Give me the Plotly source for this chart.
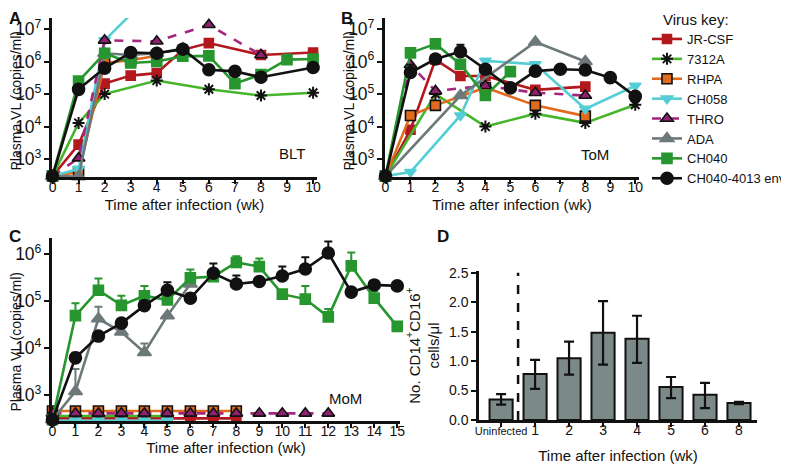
import plotly.graph_objects as go

W, H = 789, 469
OFF = 8  # the page puts the figure 8px in from the top-left corner
FONT = "Liberation Sans, Arial, Helvetica, sans-serif"

# ---- data -------------------------------------------------------------
VIRUSES = ["JR-CSF", "7312A", "RHPA", "CH058", "THRO", "ADA", "CH040", "CH040-4013 env"]

# panel A (BLT), plasma VL copies/ml by week
A_DATA = {
    "JR-CSF": ([0, 1, 2, 3, 4, 5, 6, 8, 10], [300, 2.8e3, 2.1e5, 3.7e5, 4.4e5, 2.3e6, 3.7e6, 1.6e6, 1.9e6]),
    "7312A": ([0, 1, 2, 4, 6, 8, 10], [300, 1.3e4, 1.0e5, 2.6e5, 1.4e5, 9.0e4, 1.1e5]),
    "RHPA": ([0, 1, 2, 3, 4], [300, 400, 9.0e5, 1.1e6, 1.5e6]),
    "CH058": ([0, 1, 2, 3], [300, 500, 4.5e6, 2.8e7]),
    "THRO": ([0, 1, 2, 4, 6, 8], [300, 1.07e3, 4.5e6, 4.2e6, 1.35e7, 1.6e6]),
    "ADA": ([0, 1, 2, 3, 4, 5], [300, 290, 1.8e6, 1.6e6, 1.8e6, 2.5e6]),
    "CH040": ([0, 1, 2, 3, 4, 5, 6, 7, 8, 9, 10],
              [300, 2.5e5, 1.8e6, 9.0e5, 1.0e6, 1.45e6, 1.5e6, 2.1e5, 4.0e5, 1.15e6, 1.2e6]),
    "CH040-4013 env": ([0, 1, 2, 3, 4, 5, 6, 7, 8, 10],
                       [300, 1.4e5, 6.3e5, 1.9e6, 1.8e6, 2.4e6, 5.6e5, 5.0e5, 3.3e5, 6.6e5]),
}
A_UPPER = {"CH040-4013 env": {5: 3.0e6}}

# panel B (ToM)
B_DATA = {
    "JR-CSF": ([0, 1, 2, 3, 4, 6, 8], [300, 8.0e3, 1.15e6, 3.6e5, 3.6e5, 1.35e5, 1.7e5]),
    "7312A": ([0, 2, 4, 6, 8, 10], [300, 1.0e5, 1.0e4, 2.5e4, 1.3e4, 4.7e4]),
    "RHPA": ([0, 1, 2, 4, 6, 8], [300, 2.2e4, 4.5e4, 1.6e5, 4.5e4, 2.1e4]),
    "CH058": ([0, 1, 3, 4, 6, 8, 10], [300, 400, 2.2e4, 1.05e6, 8.3e5, 3.5e4, 1.8e5]),
    "THRO": ([0, 1, 2, 4, 6, 8], [300, 8.0e5, 1.25e5, 1.8e5, 1.1e5, 9.0e4]),
    "ADA": ([0, 3, 6, 8], [300, 9.0e4, 4.0e6, 1.0e6]),
    "CH040": ([0, 1, 2, 3, 4, 5], [300, 1.85e6, 3.5e6, 8.3e5, 9.0e4, 4.9e5]),
    "CH040-4013 env": ([0, 1, 2, 3, 4, 5, 6, 7, 8, 9, 10],
                       [300, 4.6e5, 1.2e6, 2.0e6, 5.8e5, 1.55e5, 5.1e5, 5.8e5, 5.5e5, 3.2e5, 8.5e4]),
}
B_UPPER = {"CH040-4013 env": {1: 8.0e5, 3: 3.3e6}}

# panel C (MoM)
C_DATA = {
    "JR-CSF": (list(range(0, 9)), [320] * 9),
    "7312A": (list(range(0, 6)), [360] * 6),
    "RHPA": (list(range(0, 9)), [460] * 9),
    "CH058": (list(range(0, 6)), [285] * 6),
    "THRO": (list(range(0, 13)), [410] * 13),
    "ADA": ([0, 1, 2, 3, 4, 5, 6], [300, 1.2e3, 4.2e4, 2.2e4, 8.1e3, 4.9e4, 2.3e5]),
    "CH040": (list(range(0, 16)),
              [300, 4.9e4, 1.7e5, 8.1e4, 1.3e5, 1.05e5, 3.1e5, 3.3e5, 6.6e5, 5.4e5,
               1.4e5, 1.1e5, 4.6e4, 5.6e5, 1.15e5, 2.9e4]),
    "CH040-4013 env": (list(range(0, 16)),
                       [300, 6.2e3, 1.8e4, 3.4e4, 8.0e4, 1.7e5, 1.15e5, 3.9e5, 2.3e5, 2.6e5,
                        3.4e5, 4.8e5, 1.05e6, 1.55e5, 2.2e5, 2.1e5]),
}
C_UPPER = {
    "ADA": {1: 3.6e3, 2: 7.6e4, 3: 2.7e4, 4: 1.25e4},
    "CH040": {1: 9.0e4, 2: 3.0e5, 3: 1.3e5, 4: 2.1e5, 6: 4.7e5, 7: 3.6e5, 8: 9.0e5, 9: 8.0e5,
              11: 2.1e5, 12: 6.8e4, 13: 1.07e6, 14: 1.6e5},
    "CH040-4013 env": {1: 8.0e3, 3: 3.9e4, 5: 2.5e5, 7: 6.3e5, 8: 3.5e5, 10: 5.4e5,
                       11: 8.5e5, 12: 1.85e6},
}

# panel D
D_CATS = ["Uninfected", "1", "2", "3", "4", "5", "6", "8"]
D_MEAN = [0.35, 0.78, 1.05, 1.48, 1.38, 0.56, 0.43, 0.29]
D_HIGH = [0.44, 1.02, 1.33, 2.02, 1.77, 0.73, 0.63, 0.31]
D_LOW = [0.26, 0.53, 0.77, 0.94, 0.97, 0.37, 0.20, 0.27]

# ---- styles -----------------------------------------------------------
STYLE = {
    "JR-CSF": dict(color="#B3181E", symbol="square", fill="#B3181E", edge="#B3181E", size=9, dash="solid"),
    "7312A": dict(color="#47B52B", symbol="asterisk-open", fill="#111111", edge="#111111", size=10, dash="solid"),
    "RHPA": dict(color="#E06B1E", symbol="square", fill="#E06B1E", edge="#111111", size=10, dash="solid"),
    "CH058": dict(color="#55CDD4", symbol="triangle-down", fill="#55CDD4", edge="#55CDD4", size=10, dash="solid"),
    "THRO": dict(color="#A3267F", symbol="triangle-up", fill="#8E2270", edge="#111111", size=11, dash="dash"),
    "ADA": dict(color="#6D7979", symbol="triangle-up", fill="#6D7979", edge="#6D7979", size=12, dash="solid"),
    "CH040": dict(color="#27962F", symbol="square", fill="#27962F", edge="#27962F", size=10, dash="solid"),
    "CH040-4013 env": dict(color="#111111", symbol="circle", fill="#111111", edge="#111111", size=12, dash="solid"),
}


def px_x(a, b):
    return [(a - OFF) / W, (b - OFF) / W]


def px_y(top, bottom):
    return [1 - (bottom - OFF) / H, 1 - (top - OFF) / H]


def pt(x, y):
    return (x - OFF) / W, 1 - (y - OFF) / H


fig = go.Figure()


def add_panel(data, upper, xa, ya, legend):
    for i, name in enumerate(VIRUSES):
        if name not in data:
            continue
        xs, ys = data[name]
        st = STYLE[name]
        ups = upper.get(name, {})
        err = [ups[x] - y if x in ups else 0 for x, y in zip(xs, ys)]
        fig.add_trace(go.Scatter(
            x=xs, y=ys, xaxis=xa, yaxis=ya,
            mode="lines+markers",
            name=name, legendgroup=name, showlegend=legend, legendrank=i,
            line=dict(color=st["color"], width=2.6, dash=st["dash"]),
            marker=dict(symbol=st["symbol"], size=st["size"], color=st["fill"],
                        line=dict(color=st["edge"], width=1.6 if name != "7312A" else 2)),
            error_y=dict(type="data", symmetric=False, array=err, arrayminus=[0] * len(err),
                         color=st["color"], thickness=2, width=4, visible=bool(ups)),
            cliponaxis=False,
        ))


add_panel(A_DATA, A_UPPER, "x", "y", True)
add_panel(B_DATA, B_UPPER, "x2", "y2", False)
add_panel(C_DATA, C_UPPER, "x3", "y3", False)

D_POS = list(range(len(D_CATS)))
fig.add_trace(go.Bar(
    x=D_POS, y=D_MEAN, xaxis="x4", yaxis="y4", width=0.68, showlegend=False,
    marker=dict(color="#7B8A88", line=dict(color="#111111", width=2)),
    error_y=dict(type="data", symmetric=False,
                 array=[h - m for h, m in zip(D_HIGH, D_MEAN)],
                 arrayminus=[m - l for m, l in zip(D_MEAN, D_LOW)],
                 color="#111111", thickness=2.2, width=5),
))

# minor log ticks at 2, 4, 6, 8 of every decade (drawn by overlay axes)
MINOR_LOG = [m * 10 ** e for e in range(2, 8) for m in (2, 4, 6, 8)]

tickfont = dict(family=FONT, size=14, color="#111111")
titlefont = dict(family=FONT, size=15, color="#111111")
base_axis = dict(showline=True, linecolor="#111111", linewidth=2.5, ticks="outside",
                 ticklen=5, tickwidth=2, tickcolor="#111111", showgrid=False,
                 zeroline=False, tickfont=tickfont, mirror=False, automargin=False)
x_axis = dict(base_axis, ticklen=4, ticklabelstandoff=-9)
log_axis = dict(base_axis, type="log", dtick=1, exponentformat="power")
minor_axis = dict(type="log", showline=False, showgrid=False, zeroline=False, ticks="outside",
                  ticklen=3, tickwidth=1.5, tickcolor="#111111", tickmode="array",
                  tickvals=MINOR_LOG, showticklabels=False, side="left", automargin=False)
time_title = dict(text="Time after infection (wk)", font=titlefont, standoff=6)

fig.update_layout(
    width=W, height=H,
    margin=dict(l=0, r=0, t=0, b=0, autoexpand=False),
    paper_bgcolor="white", plot_bgcolor="white",
    font=dict(family=FONT, color="#111111"),
    xaxis=dict(x_axis, domain=px_x(52, 317), range=[-0.02, 10.15], dtick=1,
               anchor="y", title=time_title),
    yaxis=dict(log_axis, domain=px_y(18, 177), range=[2.45, 7.34], anchor="x"),
    xaxis2=dict(x_axis, domain=px_x(385, 639), range=[-0.02, 10.15], dtick=1,
                anchor="y2", title=time_title),
    yaxis2=dict(log_axis, domain=px_y(18, 177), range=[2.45, 7.34], anchor="x2"),
    xaxis3=dict(x_axis, domain=px_x(52, 400), range=[-0.02, 15.12], dtick=1,
                anchor="y3", title=dict(time_title, standoff=4)),
    yaxis3=dict(log_axis, domain=px_y(238, 421), range=[2.45, 6.34], anchor="x3"),
    xaxis4=dict(x_axis, domain=px_x(479, 757), range=[-0.65, 7.53],
                tickvals=D_POS,
                ticktext=['<span style="font-size:11px">Uninfected</span>'] + D_CATS[1:],
                anchor="y4", title=dict(text="Time after infection (wk)", font=titlefont, standoff=14)),
    yaxis4=dict(base_axis, domain=px_y(271, 420), range=[0, 2.53], dtick=0.5, tickformat=".1f",
                anchor="x4",
                title=dict(text="No. CD14<sup>+</sup>CD16<sup>+</sup><br>cells/μl", font=titlefont, standoff=6)),
    yaxis5=dict(minor_axis, overlaying="y", anchor="x", range=[2.45, 7.34]),
    yaxis6=dict(minor_axis, overlaying="y2", anchor="x2", range=[2.45, 7.34]),
    yaxis7=dict(minor_axis, overlaying="y3", anchor="x3", range=[2.45, 6.34]),
    legend=dict(x=pt(647, 0)[0], y=pt(0, 24)[1], xanchor="left", yanchor="top",
                font=dict(family=FONT, size=13), tracegroupgap=0, bgcolor="rgba(0,0,0,0)"),
)

fig.add_shape(type="line", xref="x4", yref="y4", x0=0.5, x1=0.5, y0=0, y1=2.5,
              line=dict(color="#111111", width=2.5, dash="dash"))

# panel letters
for txt, x in [("A", 8), ("B", 340), ("C", 8), ("D", 436)]:
    top = 8 if txt in "AB" else 226
    px, py = pt(x, top)
    fig.add_annotation(text=f"<b>{txt}</b>", x=px, y=py, xref="paper", yref="paper",
                       xanchor="left", yanchor="top", borderpad=0,
                       showarrow=False, font=dict(family=FONT, size=17, color="#111111"))

# model labels, legend heading and VL axis titles
for txt, x, y in [("BLT", 292, 153), ("ToM", 595, 154), ("MoM", 345, 398)]:
    px, py = pt(x, y)
    fig.add_annotation(text=txt, x=px, y=py, xref="paper", yref="paper",
                       xanchor="center", yanchor="middle",
                       showarrow=False, font=dict(family=FONT, size=15, color="#111111"))
px, py = pt(661, 20)
fig.add_annotation(text="Virus key:", x=px, y=py, xref="paper", yref="paper",
                   xanchor="left", yanchor="middle",
                   showarrow=False, font=dict(family=FONT, size=15, color="#111111"))
for x, y in [(15.5, 101), (348.5, 101), (15.5, 342)]:
    px, py = pt(x, y)
    fig.add_annotation(text="Plasma VL (copies/ml)", x=px, y=py, xref="paper", yref="paper",
                       textangle=-90, xanchor="center", yanchor="middle",
                       showarrow=False, font=dict(family=FONT, size=14, color="#111111"))

fig.write_html("out.html")
